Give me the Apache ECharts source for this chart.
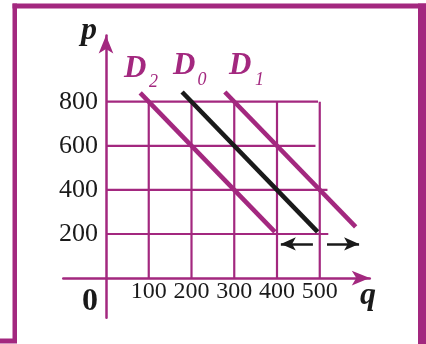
<!DOCTYPE html>
<html>
<head>
<meta charset="utf-8">
<script src="https://cdn.jsdelivr.net/npm/echarts@6/dist/echarts.min.js"></script>
<style>html,body{margin:0;padding:0;background:#fff;}#c{width:426px;height:344px;}</style>
</head>
<body>
<div id="c"></div>
<script>
// ---- data ----
const qTicks = [100, 200, 300, 400, 500];
const pTicks = [200, 400, 600, 800];
const gridTopP = 800;
const hLineEnds = [520, 518, 490, 496];      // right end (q) of each horizontal grid line
const D2 = [[80, 840], [395, 210]];
const D0 = [[178, 844], [495, 210]];
const D1 = [[278, 844], [584, 232]];
const shiftLeft = [[484, 155], [409, 155]];
const shiftRight = [[517, 155], [592, 155]];
const qRange = [-100, 617];
const pRange = [-180, 1100];

// ---- layout ----
const PURPLE = '#A3287F';
const BLACK = '#1a1a1a';
const sx = 0.4275, sy = 0.2205, x0 = 106, y0 = 278.1;
const gridLeft = x0 + qRange[0] * sx;
const gridWidth = (qRange[1] - qRange[0]) * sx;
const gridTop = y0 - pRange[1] * sy;
const gridHeight = (pRange[1] - pRange[0]) * sy;

const series = [];
qTicks.forEach(q => series.push({
  type: 'line', data: [[q, 0], [q, gridTopP]], showSymbol: false, silent: true, z: 1,
  lineStyle: { color: PURPLE, width: 2.2 }
}));
pTicks.forEach((p, i) => series.push({
  type: 'line', data: [[0, p], [hLineEnds[i], p]], showSymbol: false, silent: true, z: 1,
  lineStyle: { color: PURPLE, width: 2.2 }
}));
[[D2, PURPLE], [D1, PURPLE], [D0, BLACK]].forEach(([d, c]) => series.push({
  type: 'line', data: d, showSymbol: false, silent: true, z: 3,
  lineStyle: { color: c, width: 4.6, cap: 'butt' }
}));
series.push({
  type: 'line', data: [], silent: true, z: 4,
  markLine: {
    silent: true, animation: false, symbol: ['none', 'arrow'], symbolSize: [10, 15],
    label: { show: false },
    lineStyle: { color: BLACK, width: 2.5, type: 'solid' },
    data: [
      [{ coord: shiftLeft[0] }, { coord: shiftLeft[1] }],
      [{ coord: shiftRight[0] }, { coord: shiftRight[1] }]
    ]
  }
});

const font = (s, w) => (w || '') + ' ' + s + 'px "Liberation Serif"';
function txt(text, x, y, size, style, color, align) {
  return { type: 'text', x: x, y: y, z: 10, silent: true,
    style: { text: text, font: font(size, style), fill: color, textAlign: align || 'left', textVerticalAlign: 'middle' } };
}
const graphics = [
  { type: 'rect', shape: { x: 12.5, y: 3.5, width: 414, height: 5 }, style: { fill: PURPLE } },
  { type: 'rect', shape: { x: 12.5, y: 3.5, width: 4.5, height: 337 }, style: { fill: PURPLE } },
  { type: 'rect', shape: { x: 0, y: 338.5, width: 17, height: 5 }, style: { fill: PURPLE } },
  { type: 'rect', shape: { x: 418, y: 3.5, width: 8, height: 341 }, style: { fill: PURPLE } },
  txt('p', 81, 31, 32, 'bold italic', BLACK),
  txt('q', 360, 296, 32, 'bold italic', BLACK),
  txt('0', 90, 302, 32, 'bold', BLACK, 'center'),
  txt('D', 124, 68.5, 31, 'bold italic', PURPLE), txt('2', 149, 82, 18, 'italic', PURPLE),
  txt('D', 173, 66, 31, 'bold italic', PURPLE), txt('0', 197.5, 80.6, 18, 'italic', PURPLE),
  txt('D', 229, 66, 31, 'bold italic', PURPLE), txt('1', 255, 80.6, 18, 'italic', PURPLE)
];

const chart = echarts.init(document.getElementById('c'), null, { renderer: 'canvas' });
chart.setOption({
  animation: false,
  backgroundColor: '#fff',
  grid: { left: gridLeft, top: gridTop, width: gridWidth, height: gridHeight, containLabel: false },
  xAxis: {
    type: 'value', min: qRange[0], max: qRange[1], position: 'bottom',
    offset: -(gridTop + gridHeight - y0),
    axisLine: { onZero: false, lineStyle: { color: PURPLE, width: 2.5 }, symbol: ['none', 'arrow'], symbolSize: [11, 18] },
    axisTick: { show: false }, splitLine: { show: false },
    axisLabel: { customValues: qTicks, fontFamily: 'Liberation Serif', fontSize: 24, color: BLACK, margin: 2 }
  },
  yAxis: {
    type: 'value', min: pRange[0], max: pRange[1], position: 'left',
    offset: -(x0 - gridLeft),
    axisLine: { onZero: false, lineStyle: { color: PURPLE, width: 2.5 }, symbol: ['none', 'arrow'], symbolSize: [11, 18] },
    axisTick: { show: false }, splitLine: { show: false },
    axisLabel: { customValues: pTicks, fontFamily: 'Liberation Serif', fontSize: 26, color: BLACK, margin: 8 }
  },
  series: series,
  graphic: graphics
});
</script>
</body>
</html>
